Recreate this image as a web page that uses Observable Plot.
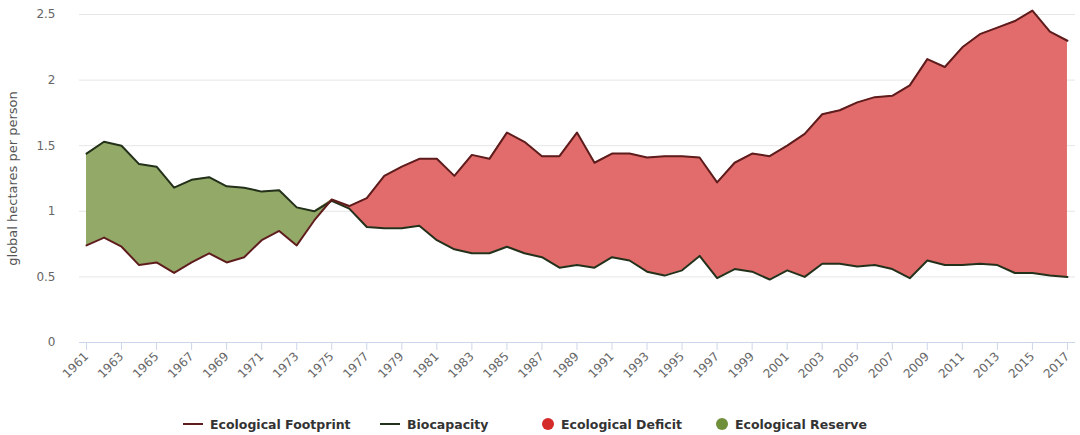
<!DOCTYPE html>
<html>
<head>
<meta charset="utf-8">
<script src="https://cdn.jsdelivr.net/npm/d3@7"></script>
<script src="https://cdn.jsdelivr.net/npm/@observablehq/plot@0.6"></script>
<style>
  html, body { margin: 0; padding: 0; background: #fff; }
  #wrap { position: relative; width: 1080px; height: 435px; overflow: hidden; font-family: "DejaVu Sans", Verdana, sans-serif; }
  #legend { position: absolute; left: 0; top: 413px; width: 1080px; height: 22px; font-size: 12.5px; font-weight: bold; color: #333; }
  .item { position: absolute; top: 0; height: 22px; display: flex; align-items: center; white-space: nowrap; }
  .sym-line { width: 20px; height: 2.5px; margin-right: 7px; }
  .sym-dot { width: 12px; height: 12px; border-radius: 50%; margin-right: 7px; }
</style>
</head>
<body>
<div id="wrap">
  <div id="chart"></div>
  <div id="legend"></div>
</div>
<script>
const years = [1961,1962,1963,1964,1965,1966,1967,1968,1969,1970,1971,1972,1973,1974,1975,1976,1977,1978,1979,1980,1981,1982,1983,1984,1985,1986,1987,1988,1989,1990,1991,1992,1993,1994,1995,1996,1997,1998,1999,2000,2001,2002,2003,2004,2005,2006,2007,2008,2009,2010,2011,2012,2013,2014,2015,2016,2017];
const footprint = [0.74,0.80,0.73,0.59,0.61,0.53,0.61,0.68,0.61,0.65,0.78,0.85,0.74,0.93,1.09,1.04,1.10,1.27,1.34,1.40,1.40,1.27,1.43,1.40,1.60,1.53,1.42,1.42,1.60,1.37,1.44,1.44,1.41,1.42,1.42,1.41,1.22,1.37,1.44,1.42,1.50,1.59,1.74,1.77,1.83,1.87,1.88,1.96,2.16,2.10,2.25,2.35,2.40,2.45,2.53,2.37,2.30];
const biocapacity = [1.44,1.53,1.50,1.36,1.34,1.18,1.24,1.26,1.19,1.18,1.15,1.16,1.03,1.00,1.08,1.02,0.88,0.87,0.87,0.89,0.78,0.71,0.68,0.68,0.73,0.68,0.65,0.57,0.59,0.57,0.65,0.625,0.54,0.51,0.55,0.66,0.49,0.56,0.54,0.48,0.55,0.50,0.60,0.60,0.58,0.59,0.56,0.49,0.625,0.59,0.59,0.60,0.59,0.53,0.53,0.51,0.50];
const xTickYears = [1961,1963,1965,1967,1969,1971,1973,1975,1977,1979,1981,1983,1985,1987,1989,1991,1993,1995,1997,1999,2001,2003,2005,2007,2009,2011,2013,2015,2017];
const yTicks = [0, 0.5, 1, 1.5, 2, 2.5];
const yTickLabels = ["0", "0.5", "1", "1.5", "2", "2.5"];
const yLabel = "global hectares per person";
const seriesNames = ["Ecological Footprint", "Biocapacity", "Ecological Deficit", "Ecological Reserve"];
const colors = { footprint: "#5e1c1c", bio: "#23301a", deficit: "#e26b6b", reserve: "#93a967", deficitDot: "#d42a2a", reserveDot: "#6f8f3a" };

const rows = years.map((yr, i) => ({ year: yr, fp: footprint[i], bio: biocapacity[i] }));

const chart = Plot.plot({
  width: 1080,
  height: 410,
  marginLeft: 79,
  marginRight: 5,
  marginTop: 14,
  marginBottom: 68,
  style: { fontFamily: "DejaVu Sans, Verdana, sans-serif", fontSize: "12px", color: "#666", background: "#fff" },
  x: { domain: [1960.6, 2017.46] },
  y: { domain: [0, 2.5] },
  marks: [
    Plot.gridY(yTicks.slice(1), { stroke: "#e6e6e6", strokeOpacity: 1 }),
    Plot.areaY(rows, { x: "year", y1: "bio", y2: d => Math.max(d.fp, d.bio), fill: colors.deficit, curve: "linear" }),
    Plot.areaY(rows, { x: "year", y1: "fp", y2: d => Math.max(d.fp, d.bio), fill: colors.reserve, curve: "linear" }),
    Plot.line(rows, { x: "year", y: "bio", stroke: colors.bio, strokeWidth: 2 }),
    Plot.line(rows, { x: "year", y: "fp", stroke: colors.footprint, strokeWidth: 2 }),
    Plot.ruleY([0], { stroke: "#ccd6eb" }),
    Plot.axisY({ ticks: yTicks, tickFormat: d => yTickLabels[yTicks.indexOf(d)], tickSize: 0, tickPadding: 24, fontSize: 12, fill: "#666", label: null }),
    Plot.axisX({ ticks: xTickYears, tickFormat: d => String(d), tickRotate: -45, tickSize: 8, tickPadding: 4, stroke: "#ccd6eb", fill: "#666", fontSize: 12, label: null }),
    Plot.text([yLabel], { text: d => d, frameAnchor: "left", textAnchor: "middle", dx: -67, rotate: -90, fill: "#555", fontSize: 13 })
  ]
});
document.getElementById("chart").appendChild(chart);

const legend = document.getElementById("legend");
const items = [
  { name: seriesNames[0], type: "line", color: colors.footprint, left: 183 },
  { name: seriesNames[1], type: "line", color: colors.bio, left: 380 },
  { name: seriesNames[2], type: "dot", color: colors.deficitDot, left: 542 },
  { name: seriesNames[3], type: "dot", color: colors.reserveDot, left: 716 }
];
for (const it of items) {
  const d = document.createElement("div");
  d.className = "item";
  d.style.left = it.left + "px";
  const s = document.createElement("span");
  s.className = it.type === "line" ? "sym-line" : "sym-dot";
  s.style.background = it.color;
  const t = document.createElement("span");
  t.textContent = it.name;
  d.appendChild(s); d.appendChild(t);
  legend.appendChild(d);
}
</script>
</body>
</html>
